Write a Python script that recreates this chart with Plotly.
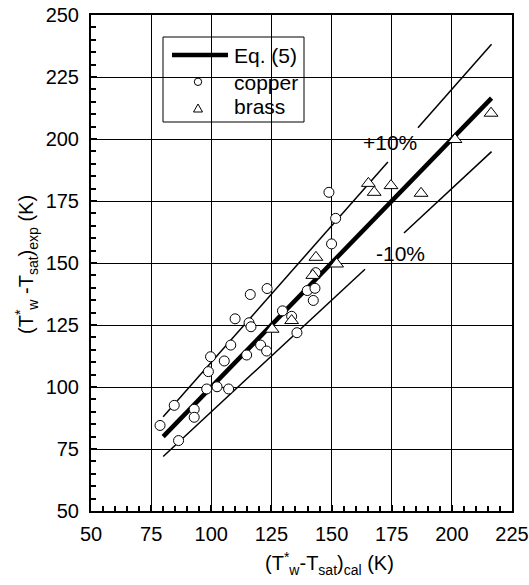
import plotly.graph_objects as go

# ---- data ----
copper_x = [78.7, 84.6, 86.4, 92.9, 92.9, 98.1, 98.8, 99.7, 102.4, 105.4, 107.2, 108.1,
            109.9, 114.7, 116.2, 115.7, 116.5, 120.5, 123.0, 123.2, 129.6, 133.4, 135.6,
            139.9, 143.1, 142.4, 143.4, 148.9, 151.7, 150.0]
copper_y = [84.5, 92.6, 78.4, 91.0, 87.8, 99.2, 106.2, 112.2, 100.1, 110.5, 99.2, 116.9,
            127.5, 112.9, 137.3, 125.9, 124.3, 116.9, 114.5, 139.7, 130.7, 128.5, 121.9,
            138.9, 139.8, 134.9, 146.1, 178.5, 168.0, 157.7]

brass_x = [125.3, 133.4, 142.2, 143.5, 152.1, 165.3, 167.7, 174.7, 187.2, 201.3, 216.3]
brass_y = [123.3, 126.8, 145.0, 152.3, 149.6, 182.1, 178.5, 181.2, 178.1, 199.8, 210.4]

eq5_x = [80.0, 216.5]
eq5_y = [80.0, 216.5]
# +/-10 % bands, interrupted where their labels sit
plus10_x = [80.0, 173.4, None, 185.9, 216.5]
plus10_y = [88.0, 190.7, None, 204.5, 238.2]
minus10_x = [80.0, 163.9, None, 180.1, 216.5]
minus10_y = [72.0, 147.5, None, 162.1, 194.9]

x_ticks = [50, 75, 100, 125, 150, 175, 200, 225]
y_ticks = [50, 75, 100, 125, 150, 175, 200, 225, 250]

FONT = "Liberation Sans, Arial, sans-serif"

# plot-area geometry in pixels (for layout helpers)
L, R, T, B = 91, 512, 15, 511


def px(xp):
    return (xp - L) / (R - L)


def py(yp):
    return (B - yp) / (B - T)


fig = go.Figure()
fig.add_trace(go.Scatter(x=plus10_x, y=plus10_y, mode="lines", connectgaps=False,
                         line=dict(color="black", width=1.5), showlegend=False, hoverinfo="skip"))
fig.add_trace(go.Scatter(x=minus10_x, y=minus10_y, mode="lines", connectgaps=False,
                         line=dict(color="black", width=1.5), showlegend=False, hoverinfo="skip"))
fig.add_trace(go.Scatter(x=eq5_x, y=eq5_y, mode="lines", name="Eq. (5)", showlegend=False,
                         line=dict(color="black", width=4.5)))
fig.add_trace(go.Scatter(x=copper_x, y=copper_y, mode="markers", name="copper", showlegend=False,
                         marker=dict(symbol="circle", size=10, color="white",
                                     line=dict(color="black", width=1))))
fig.add_trace(go.Scatter(x=brass_x, y=brass_y, mode="markers", name="brass", showlegend=False,
                         marker=dict(symbol="triangle-up", size=12, color="white",
                                     line=dict(color="black", width=1))))

axis_common = dict(
    showline=True, linecolor="black", linewidth=2, mirror=True,
    showgrid=True, gridcolor="black", gridwidth=1,
    ticks="inside", ticklen=6, tickcolor="black", tickwidth=1.5,
    minor=dict(dtick=5, ticks="inside", ticklen=5, tickcolor="black", tickwidth=1.5, showgrid=False),
    tickfont=dict(family=FONT, size=20, color="black"),
    zeroline=False, automargin=False,
)

fig.update_xaxes(range=[50, 225], tickvals=x_ticks, ticktext=[str(v) for v in x_ticks],
                 ticklabelstandoff=4, **axis_common)
fig.update_yaxes(range=[50, 250], tickvals=y_ticks, ticktext=[str(v) for v in y_ticks],
                 ticklabelstandoff=6, **axis_common)

# white label backgrounds (above grid, below data)
for (x0, y0, x1, y1) in [(355, 130, 425, 163), (365, 230, 447, 278)]:
    fig.add_shape(type="rect", xref="paper", yref="paper",
                  x0=px(x0), x1=px(x1), y0=py(y1), y1=py(y0),
                  fillcolor="white", line=dict(width=0), layer="between")

fig.add_annotation(x=px(389.5), y=py(142), xref="paper", yref="paper", text="+10%",
                   showarrow=False, xanchor="center", yanchor="middle",
                   font=dict(family=FONT, size=21, color="black"))
fig.add_annotation(x=px(400), y=py(254), xref="paper", yref="paper", text="-10%",
                   showarrow=False, xanchor="center", yanchor="middle",
                   font=dict(family=FONT, size=21, color="black"))

# ---- legend (drawn by hand to match the reference box) ----
fig.add_shape(type="rect", xref="paper", yref="paper",
              x0=px(163), x1=px(304), y0=py(122), y1=py(37),
              fillcolor="white", line=dict(color="black", width=1), layer="between")
fig.add_shape(type="line", xref="paper", yref="paper",
              x0=px(172), x1=px(228), y0=py(55), y1=py(55),
              line=dict(color="black", width=4.5), layer="above")
fig.add_shape(type="circle", xref="paper", yref="paper",
              x0=px(194.3), x1=px(201.7), y0=py(85.5), y1=py(78.1),
              fillcolor="white", line=dict(color="black", width=1), layer="above")
fig.add_shape(type="path", xref="paper", yref="paper",
              path=f"M {px(193.5)},{py(112)} L {px(202.5)},{py(112)} L {px(198)},{py(104)} Z",
              fillcolor="white", line=dict(color="black", width=1), layer="above")
for label, yc in [("Eq. (5)", 56), ("copper", 82), ("brass", 107)]:
    fig.add_annotation(x=px(232), y=py(yc), xref="paper", yref="paper", text=label,
                       showarrow=False, xanchor="left", yanchor="middle",
                       font=dict(family=FONT, size=21, color="black"))

# ---- axis titles ----
fig.add_annotation(x=px(329), y=py(563), xref="paper", yref="paper",
                   text="(T<sup>*</sup><sub>w</sub>-T<sub>sat</sub>)<sub>cal</sub> (K)",
                   showarrow=False, font=dict(family=FONT, size=20, color="black"),
                   xanchor="center", yanchor="middle")
fig.add_annotation(x=px(26), y=py(265), xref="paper", yref="paper",
                   text="(T<sup>*</sup><sub>w</sub> -T<sub>sat</sub>)<sub>exp</sub> (K)",
                   showarrow=False, textangle=-90, font=dict(family=FONT, size=20, color="black"),
                   xanchor="center", yanchor="middle")

fig.update_layout(
    width=529, height=585,
    margin=dict(l=L, r=529 - R, t=T, b=585 - B),
    plot_bgcolor="white", paper_bgcolor="white",
    font=dict(family=FONT, size=20, color="black"),
    showlegend=False,
)

fig.write_html("out.html")
